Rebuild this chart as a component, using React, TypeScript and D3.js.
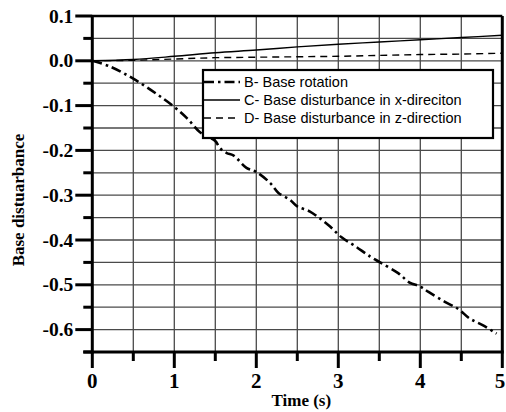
import React from "react";
import * as d3 from "d3";

const bTime = [0, 0.22, 0.5, 0.785, 1, 1.16, 1.31, 1.5, 1.557, 1.64, 1.72, 1.88, 2, 2.17, 2.27, 2.41, 2.5, 2.65, 2.77, 2.9, 3.04, 3.2, 3.39, 3.51, 3.73, 3.87, 4, 4.1, 4.3, 4.47, 4.6, 4.76, 4.93];
const bValues = [0, -0.013, -0.04, -0.074, -0.103, -0.129, -0.159, -0.179, -0.195, -0.206, -0.211, -0.239, -0.248, -0.273, -0.295, -0.31, -0.325, -0.336, -0.351, -0.37, -0.394, -0.413, -0.437, -0.45, -0.474, -0.495, -0.504, -0.516, -0.538, -0.555, -0.575, -0.59, -0.609];
const cdTime = [0, 0.5, 1, 1.5, 2, 2.5, 3, 3.5, 4, 4.5, 5];
const cValues = [0, 0.003, 0.01, 0.018, 0.024, 0.031, 0.037, 0.042, 0.047, 0.052, 0.057];
const dValues = [0, 0.001, 0.004, 0.007, 0.008, 0.009, 0.01, 0.012, 0.014, 0.015, 0.017];
const xTicks = [0, 1, 2, 3, 4, 5];
const yTicks = [0.1, 0.0, -0.1, -0.2, -0.3, -0.4, -0.5, -0.6];
const legendLabels = ["B- Base rotation", "C- Base disturbance in x-direciton", "D- Base disturbance in z-direction"];

const W = 506, H = 412;
const L = 92.3, R = 502.3, T = 16, B = 352;

export default function App() {
  const x = d3.scaleLinear().domain([0, 5]).range([L, R]);
  const y = d3.scaleLinear().domain([-0.65, 0.1]).range([B, T]);
  const line = d3.line<[number, number]>().x(d => x(d[0])).y(d => y(d[1]));
  const smooth = d3.line<[number, number]>().x(d => x(d[0])).y(d => y(d[1])).curve(d3.curveCatmullRom);

  const bData = bTime.map((t, i) => [t, bValues[i]] as [number, number]);
  const cData = cdTime.map((t, i) => [t, cValues[i]] as [number, number]);
  const dData = cdTime.map((t, i) => [t, dValues[i]] as [number, number]);

  const vGrid = d3.range(0.5, 5, 0.5);
  const hGrid = d3.range(-0.6, 0.1, 0.05).map(v => Math.round(v * 100) / 100);
  const minorY = d3.range(-0.65, 0.1, 0.1).map(v => Math.round(v * 100) / 100);
  const minorX = d3.range(0.5, 5, 1);

  const serif = "'Liberation Serif', 'Times New Roman', serif";
  const sans = "'Liberation Sans', Arial, sans-serif";

  const styles = [
    { dash: "10,4,2.5,4", w: 2.6 },
    { dash: "none", w: 1.4 },
    { dash: "7,5", w: 1.4 },
  ];

  return (
    <svg width={W} height={H} style={{ position: "absolute", left: 0, top: 0, background: "#fff" }}>
      <rect x={0} y={0} width={W} height={H} fill="#fff" />
      {vGrid.map(v => (
        <line key={"vg" + v} x1={x(v)} x2={x(v)} y1={T} y2={B} stroke="#4a4a4a" strokeWidth={1.3} />
      ))}
      {hGrid.map(v => (
        <line key={"hg" + v} x1={L} x2={R} y1={y(v)} y2={y(v)} stroke="#4a4a4a" strokeWidth={1.3} />
      ))}
      <path d={smooth(cData) || ""} fill="none" stroke="#000" strokeWidth={1.4} />
      <path d={line(dData) || ""} fill="none" stroke="#000" strokeWidth={1.4} strokeDasharray="7,5" />
      <path d={smooth(bData) || ""} fill="none" stroke="#000" strokeWidth={2.6} strokeDasharray="10,4,2.5,4" />
      {/* frame */}
      <line x1={L} x2={R} y1={T} y2={T} stroke="#000" strokeWidth={2.5} />
      <line x1={R} x2={R} y1={T} y2={B} stroke="#000" strokeWidth={3} />
      <line x1={L} x2={L} y1={T - 1} y2={B + 1.5} stroke="#000" strokeWidth={3} />
      <line x1={L - 9} x2={R + 1.5} y1={B} y2={B} stroke="#000" strokeWidth={3} />
      {/* y ticks */}
      {yTicks.map(v => (
        <g key={"yt" + v}>
          <line x1={L - 17} x2={L} y1={y(v)} y2={y(v)} stroke="#000" strokeWidth={3} />
          <text x={L - 19} y={y(v) + 6.5} textAnchor="end" fontFamily={serif} fontWeight="bold" fontSize={19.5}>
            {v.toFixed(1)}
          </text>
        </g>
      ))}
      {minorY.map(v => (
        <line key={"ym" + v} x1={L - 9} x2={L} y1={y(v)} y2={y(v)} stroke="#000" strokeWidth={3} />
      ))}
      {/* x ticks */}
      {xTicks.map(v => (
        <g key={"xt" + v}>
          <line x1={x(v)} x2={x(v)} y1={B} y2={B + 16} stroke="#000" strokeWidth={3} />
          <text x={Math.min(x(v), W - 6)} y={B + 36} textAnchor="middle" fontFamily={serif} fontWeight="bold" fontSize={21}>
            {v}
          </text>
        </g>
      ))}
      {minorX.map(v => (
        <line key={"xm" + v} x1={x(v)} x2={x(v)} y1={B} y2={B + 9} stroke="#000" strokeWidth={3} />
      ))}
      {/* titles */}
      <text x={x(2.5) + 4} y={406} textAnchor="middle" fontFamily={serif} fontWeight="bold" fontSize={17}>
        Time (s)
      </text>
      <text transform={`translate(24,${(T + B) / 2 + 16}) rotate(-90)`} textAnchor="middle" fontFamily={serif} fontWeight="bold" fontSize={17}>
        Base distuarbance
      </text>
      {/* legend */}
      <rect x={203} y={70} width={290} height={68} fill="#fff" stroke="#000" strokeWidth={2.2} />
      {legendLabels.map((lab, i) => (
        <g key={lab}>
          <line x1={204} x2={240} y1={82 + i * 18} y2={82 + i * 18} stroke="#000" strokeWidth={styles[i].w} strokeDasharray={styles[i].dash} />
          <text x={244} y={87 + i * 18} fontFamily={sans} fontSize={14.5}>
            {lab}
          </text>
        </g>
      ))}
    </svg>
  );
}
